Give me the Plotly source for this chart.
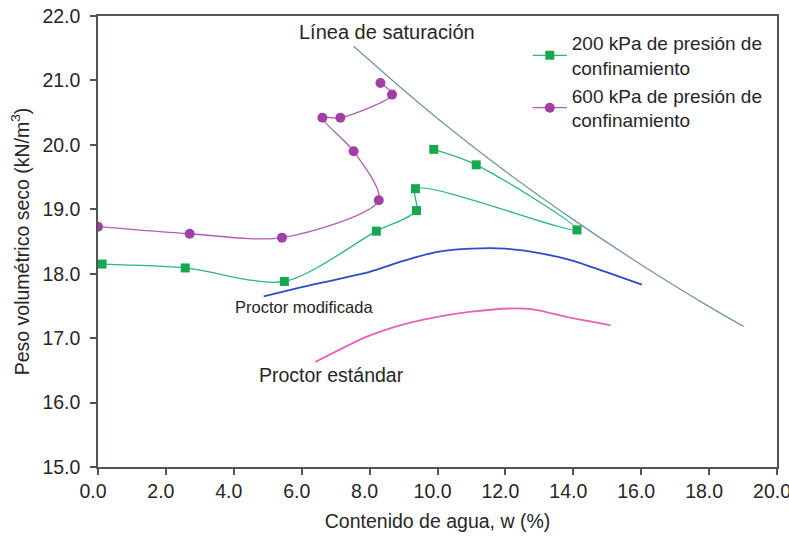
import plotly.graph_objects as go

# Water content (%) and dry unit weight (kN/m3) for each test series
w_200 = [0.12, 2.57, 5.49, 8.20, 9.38, 9.35, 14.11, 11.14, 9.89]
g_200 = [18.15, 18.09, 17.88, 18.66, 18.98, 19.32, 18.68, 19.69, 19.93]

w_600 = [0.0, 2.70, 5.42, 8.27, 7.53, 6.61, 7.14, 8.66, 8.32]
g_600 = [18.73, 18.62, 18.56, 19.14, 19.90, 20.42, 20.42, 20.78, 20.96]

w_mod = [4.88, 6.0, 8.0, 9.0, 10.0, 11.0, 12.0, 13.0, 14.0, 15.0, 16.02]
g_mod = [17.65, 17.79, 18.03, 18.20, 18.34, 18.39, 18.39, 18.32, 18.20, 18.02, 17.83]

w_std = [6.40, 7.90, 8.90, 10.0, 11.0, 12.1, 12.9, 13.8, 15.1]
g_std = [16.63, 17.02, 17.20, 17.33, 17.41, 17.46, 17.44, 17.33, 17.20]

w_sat = [7.53, 9.0, 10.0, 12.0, 14.0, 16.0, 18.0, 19.02]
g_sat = [21.53, 20.85, 20.41, 19.59, 18.84, 18.14, 17.49, 17.18]

x_ticks = [0, 2, 4, 6, 8, 10, 12, 14, 16, 18, 20]
y_ticks = [15, 16, 17, 18, 19, 20, 21, 22]

FONT = "Liberation Sans, Arial, sans-serif"
TXT = "#262626"
AX = "#4d5753"

fig = go.Figure()

fig.add_trace(go.Scatter(
    x=w_sat, y=g_sat, mode="lines", showlegend=False,
    line=dict(color="#7394ad", width=1.3, shape="spline", smoothing=0.6),
    hoverinfo="skip"))

fig.add_trace(go.Scatter(
    x=w_mod, y=g_mod, mode="lines", showlegend=False,
    line=dict(color="#2a4fc4", width=1.8, shape="spline", smoothing=0.6)))

fig.add_trace(go.Scatter(
    x=w_std, y=g_std, mode="lines", showlegend=False,
    line=dict(color="#e463b4", width=1.8, shape="spline", smoothing=0.6)))

fig.add_trace(go.Scatter(
    x=w_200, y=g_200, mode="lines+markers",
    name="200 kPa de presión de<br>confinamiento",
    line=dict(color="#2bb87a", width=1.3, shape="spline", smoothing=0.8),
    marker=dict(symbol="square", size=9, color="#16a84e")))

fig.add_trace(go.Scatter(
    x=w_600, y=g_600, mode="lines+markers",
    name="600 kPa de presión de<br>confinamiento",
    line=dict(color="#b15cb8", width=1.3, shape="spline", smoothing=0.8),
    marker=dict(symbol="circle", size=10, color="#a23fa6")))

fig.add_annotation(x=5.87, y=21.75, text="Línea de saturación", showarrow=False,
                   xanchor="left", yanchor="middle",
                   font=dict(family=FONT, size=20, color=TXT))
fig.add_annotation(x=3.99, y=17.48, text="Proctor modificada", showarrow=False,
                   xanchor="left", yanchor="middle",
                   font=dict(family=FONT, size=16.5, color=TXT))
fig.add_annotation(x=4.69, y=16.43, text="Proctor estándar", showarrow=False,
                   xanchor="left", yanchor="middle",
                   font=dict(family=FONT, size=19.5, color=TXT))

axis_common = dict(
    showgrid=False, zeroline=False, showline=True, linecolor=AX, linewidth=1.5,
    mirror=True, ticks="outside", ticklen=6, tickwidth=1.5, tickcolor=AX,
    tickfont=dict(family=FONT, size=19.5, color=TXT), tickformat=".1f",
    ticklabeloverflow="allow", automargin=False,
)

fig.update_xaxes(range=[0, 20], tickvals=x_ticks, ticklabelshift=-5,
                 title=dict(text="Contenido de agua, w (%)",
                            font=dict(family=FONT, size=19.5, color=TXT), standoff=13),
                 **axis_common)
fig.update_yaxes(range=[15, 22], tickvals=y_ticks, ticklabelstandoff=6,
                 title=dict(text="Peso volumétrico seco (kN/m<sup>3</sup>)",
                            font=dict(family=FONT, size=19.5, color=TXT), standoff=8),
                 **axis_common)

fig.update_layout(
    width=789, height=537,
    margin=dict(l=98, r=12, t=16, b=70, autoexpand=False),
    paper_bgcolor="white", plot_bgcolor="white",
    font=dict(family=FONT, color=TXT),
    legend=dict(x=0.633, y=0.982, xanchor="left", yanchor="top",
                bgcolor="rgba(0,0,0,0)", font=dict(family=FONT, size=19, color=TXT),
                tracegroupgap=16, itemwidth=34),
)

fig.write_html("out.html")
